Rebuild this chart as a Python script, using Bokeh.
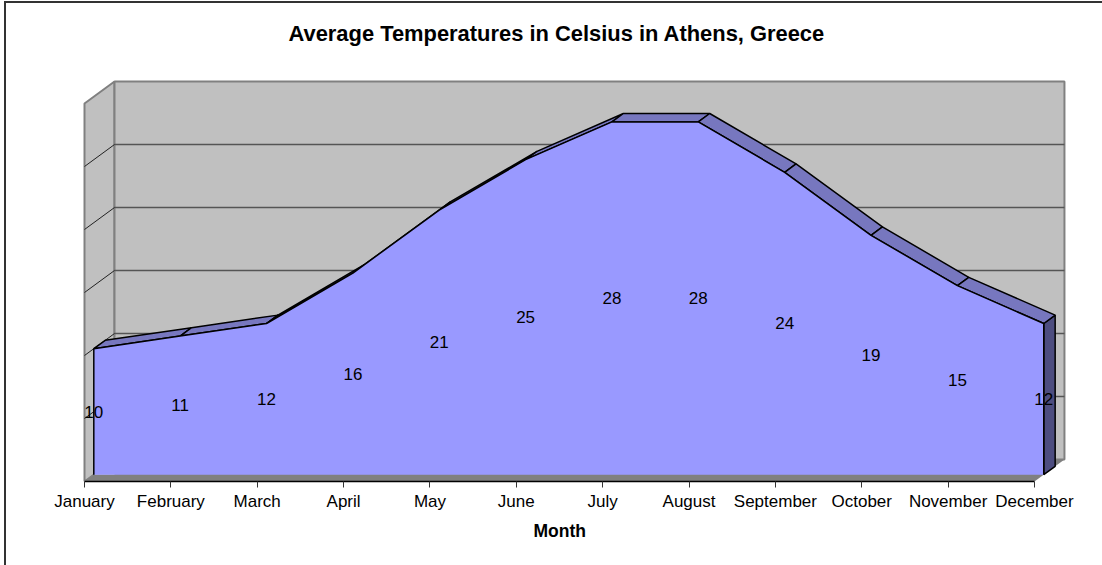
from bokeh.plotting import figure
from bokeh.models import Range1d, FixedTicker, Title, ColumnDataSource
from bokeh.core.properties import value
from bokeh.embed import file_html
from bokeh.resources import INLINE

months = ["January", "February", "March", "April", "May", "June", "July",
          "August", "September", "October", "November", "December"]
temps = [10, 11, 12, 16, 21, 25, 28, 28, 24, 19, 15, 12]
grid_values = [0, 5, 10, 15, 20, 25, 30]

FONT = "Liberation Sans"
PX_PER_MONTH = 86.36
PX_PER_DEG = 12.6
DEPTH_X = 30.0 / PX_PER_MONTH   # box depth expressed in months
DEPTH_Y = 22.0 / PX_PER_DEG     # box depth expressed in degrees
D_FRONT, D_BACK = 0.31, 0.69    # depth of the area's front and back faces


def X(i, d):
    return i + d * DEPTH_X


def Y(t, d):
    return t + (d - D_FRONT) * DEPTH_Y


FRAME_L, FRAME_R, FRAME_T, FRAME_B = 80, 1070, 78, 481
FIG_X, FIG_Y, FIG_W, FIG_H = 4, 1, 1098, 564
BORDER = 2

x_start = -(84 - FRAME_L) / PX_PER_MONTH
x_end = x_start + (FRAME_R - FRAME_L) / PX_PER_MONTH
y_start = Y(0, 0)
y_end = y_start + (FRAME_B - FRAME_T) / PX_PER_DEG

p = figure(width=FIG_W, height=FIG_H, output_backend="svg", toolbar_location=None,
           x_range=Range1d(x_start, x_end), y_range=Range1d(y_start, y_end),
           y_axis_location=None,
           min_border_left=FRAME_L - FIG_X - BORDER, min_border_right=FIG_X + FIG_W + BORDER - FRAME_R,
           min_border_top=FRAME_T - FIG_Y - BORDER, min_border_bottom=FIG_Y + FIG_H + BORDER - FRAME_B,
           margin=(FIG_Y, 0, 0, FIG_X),
           background_fill_color="white", border_fill_color="white")
p.styles = {"border-left": f"{BORDER}px solid #333333", "border-top": f"{BORDER}px solid #333333"}
p.outline_line_color = None
p.xgrid.visible = False
p.ygrid.visible = False

WALL = "#C0C0C0"
EDGE = "#808080"
GRID = "#555555"
n = len(months) - 1
ymax = grid_values[-1]

# walls and floor
p.patch([X(0, 0), X(0, 1), X(0, 1), X(0, 0)], [Y(0, 0), Y(0, 1), Y(ymax, 1), Y(ymax, 0)],
        fill_color=WALL, line_color=EDGE, line_width=2)
p.patch([X(0, 1), X(n, 1), X(n, 1), X(0, 1)], [Y(0, 1), Y(0, 1), Y(ymax, 1), Y(ymax, 1)],
        fill_color=WALL, line_color=EDGE, line_width=2)
p.patch([X(0, 0), X(n, 0), X(n, 1), X(0, 1)], [Y(0, 0), Y(0, 0), Y(0, 1), Y(0, 1)],
        fill_color="#808080", line_color=None)
p.patch([X(0, 0), X(0, D_FRONT), X(0, 1), X(0, 1), X(0, 0)],
        [Y(0, 0), Y(0, D_FRONT), Y(0, D_FRONT), Y(0, 1), Y(0, 0)],
        fill_color=WALL, line_color=None)

# gridlines
inner = grid_values[1:-1]
p.multi_line([[X(0, 1), X(n, 1)] for _ in inner], [[Y(g, 1), Y(g, 1)] for g in inner],
             line_color=GRID, line_width=1.5)
p.multi_line([[X(0, 0), X(0, 1)] for _ in inner], [[Y(g, 0), Y(g, 1)] for g in inner],
             line_color="#222222", line_width=1)

# area: right side, top faces, front
p.patch([X(n, D_FRONT), X(n, D_BACK), X(n, D_BACK), X(n, D_FRONT)],
        [Y(0, D_FRONT), Y(0, D_BACK), Y(temps[n], D_BACK), Y(temps[n], D_FRONT)],
        fill_color="#4D4D80", line_color="black", line_width=1.5)
top_xs, top_ys = [], []
for i in range(n):
    top_xs.append([X(i, D_FRONT), X(i + 1, D_FRONT), X(i + 1, D_BACK), X(i, D_BACK)])
    top_ys.append([Y(temps[i], D_FRONT), Y(temps[i + 1], D_FRONT), Y(temps[i + 1], D_BACK), Y(temps[i], D_BACK)])
p.patches(top_xs, top_ys, fill_color="#7777BF", line_color="black", line_width=1.5)
front_x = [X(0, D_FRONT)] + [X(i, D_FRONT) for i in range(n + 1)] + [X(n, D_FRONT)]
front_y = [Y(0, D_FRONT)] + [Y(t, D_FRONT) for t in temps] + [Y(0, D_FRONT)]
p.patch(front_x, front_y, fill_color="#9999FF", line_color=None)
p.line(front_x, front_y, line_color="black", line_width=1.5)

# data labels
src = ColumnDataSource(dict(x=[X(i, D_FRONT) for i in range(n + 1)],
                            y=[t / 2 for t in temps],
                            t=[str(t) for t in temps]))
p.text("x", "y", text="t", source=src, text_align="center", text_baseline="middle",
       text_font=value(FONT), text_font_size="17px", text_color="black")

# axis
ax = p.xaxis[0]
ax.ticker = FixedTicker(ticks=list(range(n + 1)))
ax.major_label_overrides = {i: m for i, m in enumerate(months)}
ax.major_label_text_font = FONT
ax.major_label_text_font_size = "17px"
ax.major_label_text_color = "black"
ax.major_label_standoff = 4
ax.major_tick_in = 0
ax.major_tick_out = 6
ax.major_tick_line_color = "#333333"
ax.minor_tick_line_color = None
ax.axis_line_color = "black"
ax.axis_line_width = 1.5
ax.bounds = (0, n)

# titles
t = p.title
t.text = "Average Temperatures in Celsius in Athens, Greece"
t.text_font = FONT
t.text_font_size = "21.9px"
t.text_font_style = "bold"
t.text_color = "black"
t.align = "left"
t.offset = 288 - FRAME_L
t.standoff = 0
p.add_layout(Title(text=" ", text_font_size="1px", standoff=30), "above")
p.add_layout(Title(text="Month", text_font=FONT, text_font_size="17.5px", text_font_style="bold",
                   text_color="black", align="left", offset=533 - FRAME_L, standoff=11), "below")

open("out.html", "w").write(file_html(p, INLINE))
